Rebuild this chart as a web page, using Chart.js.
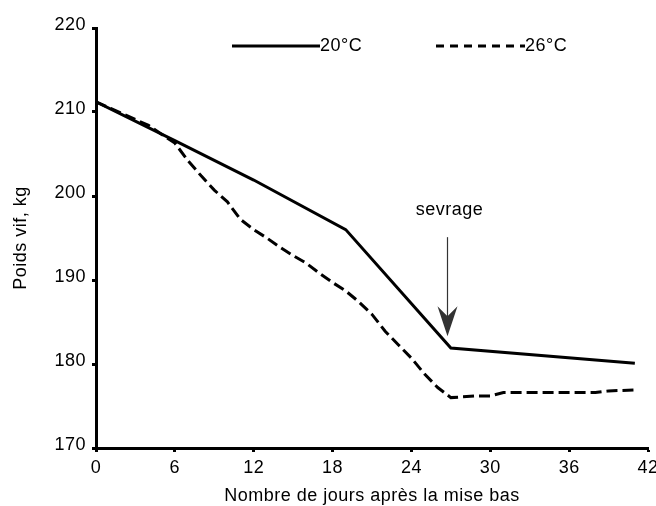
<!DOCTYPE html>
<html><head><meta charset="utf-8">
<script src="https://cdn.jsdelivr.net/npm/chart.js@4/dist/chart.umd.min.js"></script>
<style>html,body{margin:0;padding:0;background:#fff;} canvas{display:block;}</style>
</head><body>
<canvas id="c" width="656" height="506"></canvas>
<script>
// ---- data ----
const daysT20 = [0, 6, 12, 19, 27, 41];
const weightT20 = [211.2, 206.6, 201.9, 196.0, 181.9, 180.1];
const daysT26 = [0, 2, 4, 6, 7, 8, 9, 10, 11, 12, 13, 14, 15, 16, 17, 18, 19, 20, 21, 22, 23, 24, 25, 26, 27, 29, 30, 31, 38, 39, 41];
const weightT26 = [211.2, 209.8, 208.4, 206.3, 204.2, 202.4, 200.7, 199.3, 197.2, 196.0, 195.0, 193.9, 192.9, 192.0, 190.8, 189.7, 188.7, 187.4, 185.9, 183.9, 182.3, 180.7, 178.8, 177.2, 176.0, 176.2, 176.2, 176.6, 176.6, 176.8, 176.9];
const seriesLabels = ['20°C', '26°C'];
const xTicks = [0, 6, 12, 18, 24, 30, 36, 42];
const yTicks = [170, 180, 190, 200, 210, 220];
const weaningDay = [26.7];
const weaningArrow = [195.1, 183.3]; // from, to (kg)
const weaningLabel = 'sevrage';
const xTitle = 'Nombre de jours après la mise bas';
const yTitle = 'Poids vif, kg';

const FONT = {family: '"Liberation Sans", Arial, sans-serif', size: 18};
const SPACING = '0.5px';

function setSpacing(chart){ try { chart.ctx.letterSpacing = SPACING; } catch(e){} }
const spacingPlugin = {
  id: 'spacing',
  beforeInit: setSpacing, beforeUpdate: setSpacing, beforeLayout: setSpacing, beforeDraw: setSpacing
};

const legendPlugin = {
  id: 'customLegend',
  afterDraw(chart) {
    const ctx = chart.ctx;
    const y = chart.chartArea.top + 18;
    const spots = [[232, 320], [436, 525]];
    ctx.save();
    setSpacing(chart);
    chart.data.datasets.forEach((ds, i) => {
      const [x0, x1] = spots[i];
      ctx.beginPath();
      ctx.lineWidth = ds.borderWidth;
      ctx.strokeStyle = ds.borderColor;
      ctx.setLineDash(i === 1 ? [8, 6] : []);
      ctx.moveTo(x0, y); ctx.lineTo(x1, y); ctx.stroke();
      ctx.setLineDash([]);
      ctx.fillStyle = '#000';
      ctx.font = FONT.size + 'px ' + FONT.family;
      ctx.textAlign = 'left'; ctx.textBaseline = 'middle';
      ctx.fillText(ds.label, x1, y);
    });
    ctx.restore();
  }
};

const arrowPlugin = {
  id: 'weaningArrow',
  afterDatasetsDraw(chart) {
    const ctx = chart.ctx, xs = chart.scales.x, ys = chart.scales.y;
    const x = Math.round(xs.getPixelForValue(weaningDay[0])) + 0.5;
    const yTop = ys.getPixelForValue(weaningArrow[0]);
    const yTip = ys.getPixelForValue(weaningArrow[1]);
    ctx.save();
    setSpacing(chart);
    ctx.strokeStyle = '#333'; ctx.fillStyle = '#333'; ctx.lineWidth = 1.2;
    ctx.beginPath(); ctx.moveTo(x, yTop); ctx.lineTo(x, yTip - 18); ctx.stroke();
    ctx.beginPath();
    ctx.moveTo(x, yTip);
    ctx.lineTo(x - 10, yTip - 30);
    ctx.lineTo(x, yTip - 20);
    ctx.lineTo(x + 10, yTip - 30);
    ctx.closePath(); ctx.fill();
    ctx.fillStyle = '#000';
    ctx.font = FONT.size + 'px ' + FONT.family;
    ctx.textAlign = 'center'; ctx.textBaseline = 'middle';
    ctx.fillText(weaningLabel, x + 2, yTop - 27);
    ctx.restore();
  }
};

new Chart(document.getElementById('c'), {
  type: 'line',
  data: {
    datasets: [
      { label: seriesLabels[0], data: daysT20.map((d, i) => ({x: d, y: weightT20[i]})),
        borderColor: '#000', borderWidth: 3, pointRadius: 0, fill: false, tension: 0 },
      { label: seriesLabels[1], data: daysT26.map((d, i) => ({x: d, y: weightT26[i]})),
        borderColor: '#000', borderWidth: 3, borderDash: [11, 5], pointRadius: 0, fill: false, tension: 0 }
    ]
  },
  options: {
    responsive: false, animation: false, devicePixelRatio: 1,
    layout: {padding: {left: 0, right: 8, top: 28, bottom: 0}},
    plugins: {legend: {display: false}, tooltip: {enabled: false}},
    font: FONT,
    scales: {
      x: {
        type: 'linear', min: 0, max: 42,
        afterBuildTicks: s => { s.ticks = xTicks.map(v => ({value: v})); },
        afterFit: s => { s.height = 58; s.paddingRight = 0; s.paddingLeft = 0; },
        border: {display: true, color: '#000', width: 3},
        grid: {drawOnChartArea: false, drawTicks: true, tickLength: 4, tickWidth: 3, tickColor: '#000', color: '#000'},
        ticks: {color: '#000', font: FONT, padding: 5, maxRotation: 0, autoSkip: false},
        title: {display: true, text: xTitle, color: '#000', font: FONT, padding: {top: 0, bottom: -1}}
      },
      y: {
        min: 170, max: 220,
        afterBuildTicks: s => { s.ticks = yTicks.map(v => ({value: v})); },
        afterFit: s => { s.width = 96; s.paddingTop = 0; s.paddingBottom = 0; },
        border: {display: true, color: '#000', width: 3},
        grid: {drawOnChartArea: false, drawTicks: true, tickLength: 4, tickWidth: 3, tickColor: '#000', color: '#000'},
        ticks: {color: '#000', font: FONT, padding: 6, labelOffset: -3, autoSkip: false},
        title: {display: true, text: yTitle, color: '#000', font: FONT, padding: {top: 10, bottom: 0}}
      }
    }
  },
  plugins: [spacingPlugin, arrowPlugin, legendPlugin]
});
</script>
</body></html>
